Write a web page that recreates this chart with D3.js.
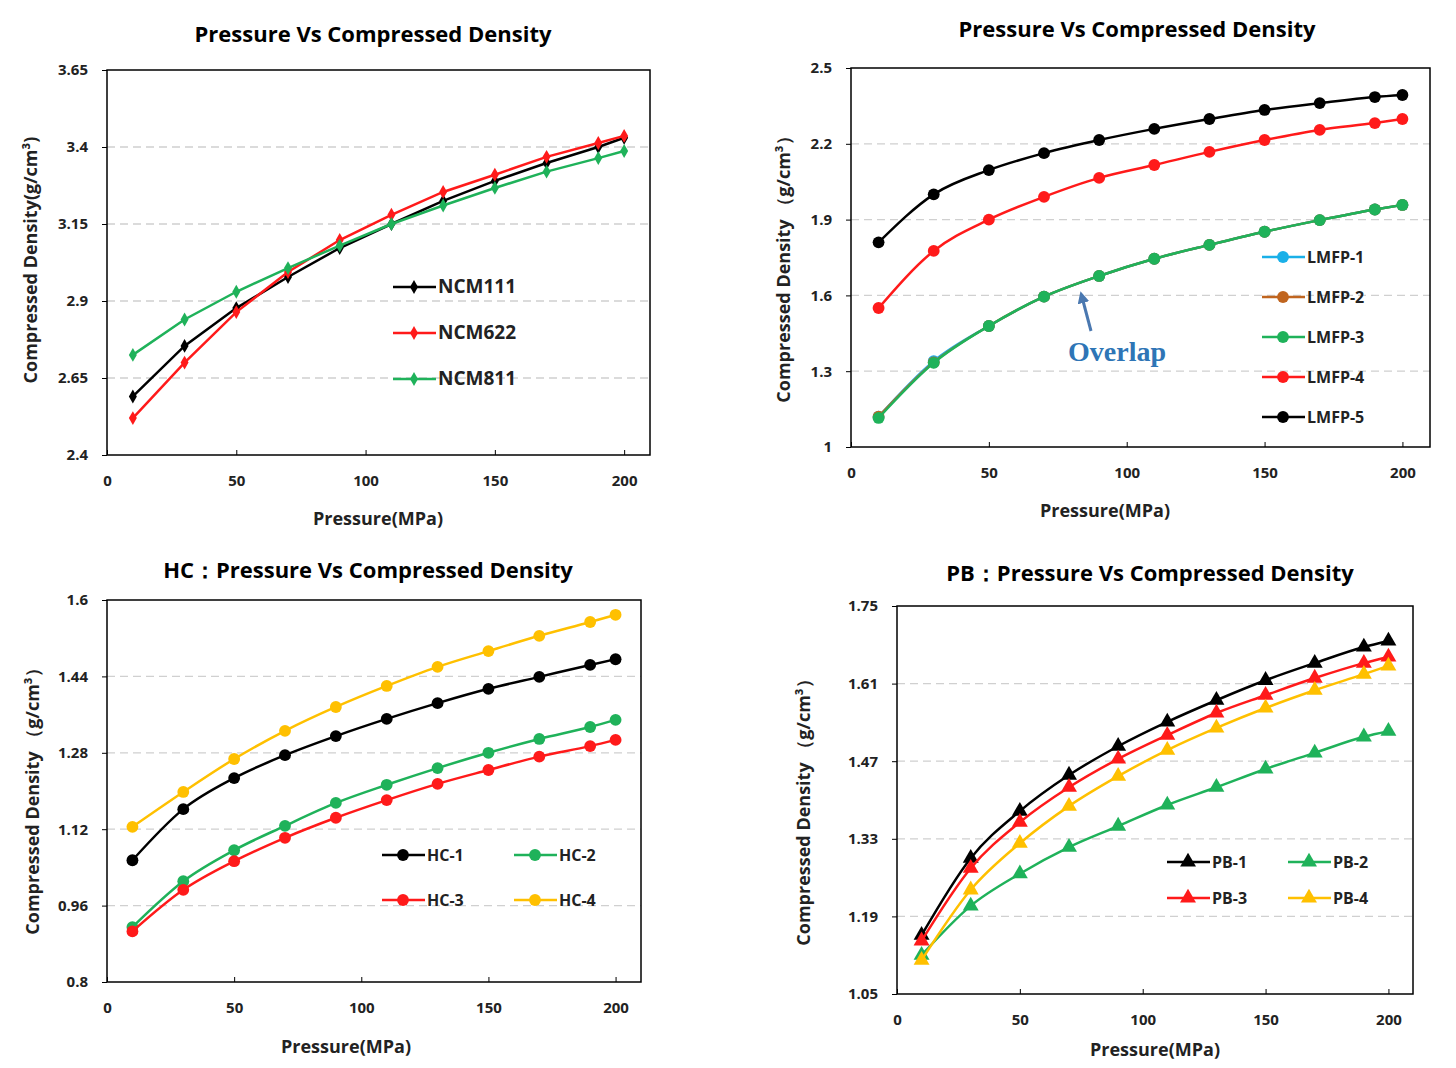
<!DOCTYPE html>
<html><head><meta charset="utf-8">
<script src="https://cdn.jsdelivr.net/npm/d3@7"></script>
<style>body{margin:0;background:#fff}text{font-family:"Open Sans",sans-serif}</style>
</head><body><svg id="c" width="1456" height="1068"></svg>
<script>
const pressure=[10,30,50,70,90,110,130,150,170,190,200];
const xTicks=[0,50,100,150,200];
// Panel 1
const ncm111=[2.59,2.754,2.877,2.978,3.072,3.15,3.225,3.29,3.348,3.40,3.43];
const ncm622=[2.52,2.70,2.864,2.994,3.098,3.18,3.254,3.31,3.368,3.413,3.436];
const ncm811=[2.725,2.84,2.93,3.007,3.08,3.15,3.21,3.267,3.32,3.364,3.387];
const ticks1=[2.4,2.65,2.9,3.15,3.4,3.65];
// Panel 2
const lmfp1=[1.12,1.34,1.479,1.595,1.677,1.745,1.80,1.852,1.898,1.94,1.958];
const lmfp2=[1.12,1.335,1.479,1.595,1.677,1.745,1.80,1.852,1.898,1.94,1.958];
const lmfp3=[1.115,1.333,1.479,1.595,1.677,1.745,1.80,1.852,1.898,1.94,1.958];
const lmfp4=[1.55,1.776,1.90,1.99,2.065,2.116,2.168,2.215,2.255,2.282,2.298];
const lmfp5=[1.81,2.0,2.096,2.163,2.215,2.259,2.298,2.334,2.361,2.385,2.393];
const ticks2=[1,1.3,1.6,1.9,2.2,2.5];
// Panel 3
const hc1=[1.055,1.162,1.227,1.275,1.315,1.351,1.384,1.414,1.439,1.464,1.476];
const hc2=[0.915,1.011,1.076,1.127,1.175,1.213,1.248,1.28,1.309,1.334,1.349];
const hc3=[0.906,0.993,1.053,1.102,1.144,1.181,1.215,1.244,1.272,1.294,1.307];
const hc4=[1.125,1.198,1.267,1.326,1.376,1.42,1.46,1.493,1.525,1.554,1.569];
const ticks3=[0.8,0.96,1.12,1.28,1.44,1.6];
// Panel 4
const pb1=[1.156,1.295,1.38,1.445,1.497,1.541,1.58,1.616,1.647,1.676,1.687];
const pb2=[1.12,1.209,1.267,1.315,1.353,1.391,1.423,1.456,1.485,1.514,1.524];
const pb3=[1.146,1.277,1.36,1.423,1.474,1.517,1.557,1.589,1.62,1.647,1.658];
const pb4=[1.111,1.238,1.322,1.389,1.443,1.49,1.53,1.566,1.598,1.627,1.642];
const ticks4=[1.05,1.19,1.33,1.47,1.61,1.75];

const K="#000",R="#ff1a1a",G="#1fb25a",Y="#ffc000",B="#1ab0e8",BR="#c0651f";
const svg=d3.select("#c");

const panels=[
 {box:[107,650,70,455],ticks:ticks1,title:"Pressure Vs Compressed Density",tx:373,ty:42,
  ylab:"Compressed Density(g/cm³)",ylx:37,yly:260,xly:525,xlx:378,shape:"diamond",curve:d3.curveLinear,lfs:19,
  series:[["NCM111",ncm111,K],["NCM622",ncm622,R],["NCM811",ncm811,G]],
  legend:[[393,287],[393,333],[393,379]]},
 {box:[851,1430,68,447],ticks:ticks2,title:"Pressure Vs Compressed Density",tx:1137,ty:37,
  ylab:"Compressed Density （g/cm³）",ylx:790,yly:265,xly:517,xlx:1105,shape:"circle",curve:d3.curveMonotoneX,lfs:16,
  series:[["LMFP-1",lmfp1,B],["LMFP-2",lmfp2,BR],["LMFP-3",lmfp3,G],["LMFP-4",lmfp4,R],["LMFP-5",lmfp5,K]],
  legend:[[1262,257],[1262,297],[1262,337],[1262,377],[1262,417]]},
 {box:[107,641,600,982],ticks:ticks3,title:"HC：Pressure Vs Compressed Density",tx:368,ty:578,
  ylab:"Compressed Density （g/cm³）",ylx:39,yly:797,xly:1053,xlx:346,shape:"circle",curve:d3.curveMonotoneX,lfs:16,
  series:[["HC-1",hc1,K],["HC-2",hc2,G],["HC-3",hc3,R],["HC-4",hc4,Y]],
  legend:[[382,855],[514,855],[382,900],[514,900]]},
 {box:[897,1413,606,994],ticks:ticks4,title:"PB：Pressure Vs Compressed Density",tx:1150,ty:581,
  ylab:"Compressed Density （g/cm³）",ylx:810,yly:808,xly:1056,xlx:1155,shape:"triangle",curve:d3.curveMonotoneX,lfs:16,
  series:[["PB-1",pb1,K],["PB-2",pb2,G],["PB-3",pb3,R],["PB-4",pb4,Y]],
  legend:[[1167,862],[1288,862],[1167,898],[1288,898]]}
];
const symType={diamond:d3.symbolDiamond,circle:d3.symbolCircle,triangle:d3.symbolTriangle};
const symSize={diamond:55,circle:110,triangle:110};

panels.forEach(p=>{
 const [x0,x1,y0,y1]=p.box;
 const x=d3.scaleLinear().domain([0,210]).range([x0,x1]);
 const y=d3.scaleLinear().domain([p.ticks[0],p.ticks[p.ticks.length-1]]).range([y1,y0]);
 const g=svg.append("g");
 g.selectAll(".gr").data(p.ticks.slice(1,-1)).join("line").attr("x1",x0).attr("x2",x1)
  .attr("y1",d=>y(d)).attr("y2",d=>y(d)).attr("stroke","#d0d0d0").attr("stroke-width",1.3).attr("stroke-dasharray","8,5");
 g.append("rect").attr("x",x0).attr("y",y0).attr("width",x1-x0).attr("height",y1-y0).attr("fill","none").attr("stroke","#000").attr("stroke-width",1.5);
 const ya=g.append("g").attr("transform",`translate(${x0},0)`).call(d3.axisLeft(y).tickValues(p.ticks).tickFormat(d=>String(d)).tickSize(5).tickPadding(14));
 const xa=g.append("g").attr("transform",`translate(0,${y1})`).call(d3.axisBottom(x).tickValues(xTicks).tickSize(-5).tickPadding(20));
 [ya,xa].forEach(a=>{a.select(".domain").remove();a.selectAll("text").attr("font-size",15).attr("font-weight","bold").attr("fill","#222");a.selectAll("line").attr("stroke","#000");});
 g.append("text").attr("x",p.tx).attr("y",p.ty).attr("text-anchor","middle").attr("font-size",22).attr("font-weight","bold").text(p.title);
 g.append("text").attr("x",p.xlx).attr("y",p.xly).attr("text-anchor","middle").attr("font-size",18).attr("font-weight","bold").attr("fill","#222").text("Pressure(MPa)");
 g.append("text").attr("transform",`translate(${p.ylx},${p.yly}) rotate(-90)`).attr("text-anchor","middle").attr("font-size",18).attr("font-weight","bold").attr("fill","#222").text(p.ylab);
 const line=d3.line().x((d,i)=>x(pressure[i])).y(d=>y(d)).curve(p.curve);
 const sym=d3.symbol().type(symType[p.shape]).size(symSize[p.shape]);
 p.series.forEach(([name,vals,col],si)=>{
  g.append("path").attr("d",line(vals)).attr("fill","none").attr("stroke",col).attr("stroke-width",2.5);
  g.selectAll(".m"+si).data(vals).join("path").attr("transform",(d,i)=>`translate(${x(pressure[i])},${y(d)})`).attr("d",sym).attr("fill",col);
  const [lx,ly]=p.legend[si];
  g.append("line").attr("x1",lx).attr("x2",lx+43).attr("y1",ly).attr("y2",ly).attr("stroke",col).attr("stroke-width",2.5);
  g.append("path").attr("transform",`translate(${lx+21},${ly})`).attr("d",sym).attr("fill",col);
  g.append("text").attr("x",lx+45).attr("y",ly+6).attr("font-size",p.lfs).attr("font-weight","bold").attr("fill","#222").text(name);
 });
});
svg.append("defs").append("marker").attr("id","ah").attr("viewBox","0 0 10 10").attr("refX",5).attr("refY",5)
 .attr("markerWidth",4).attr("markerHeight",4).attr("orient","auto").append("path").attr("d","M0,0L10,5L0,10z").attr("fill","#4a78b0");
svg.append("line").attr("x1",1091).attr("y1",331).attr("x2",1082).attr("y2",297).attr("stroke","#4a78b0").attr("stroke-width",3).attr("marker-end","url(#ah)");
svg.append("text").attr("x",1068).attr("y",361).style("font-family","'Liberation Serif','DejaVu Serif',serif").attr("font-weight","bold").attr("font-size",28).attr("fill","#2e75b6").text("Overlap");
</script></body></html>
